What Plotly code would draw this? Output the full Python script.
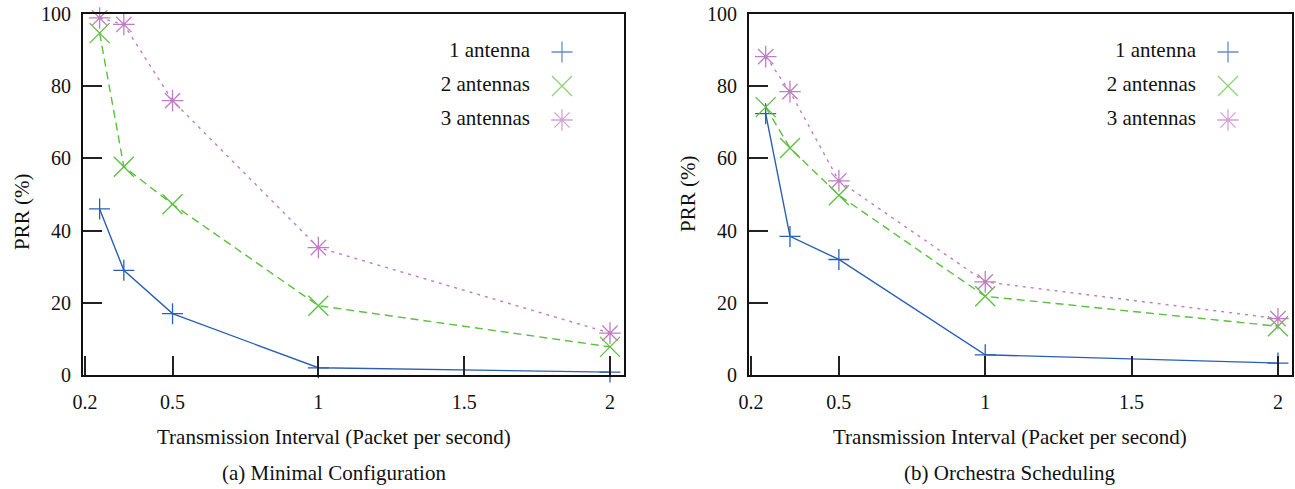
import plotly.graph_objects as go

# ---------------- data ----------------
interval = [0.25, 0.333, 0.5, 1, 2]
series_names = ["1 antenna", "2 antennas", "3 antennas"]

minimal_1ant = [46.0, 29.0, 17.0, 2.0, 0.8]
minimal_2ant = [94.7, 57.7, 47.3, 19.2, 7.8]
minimal_3ant = [98.9, 97.1, 76.0, 35.3, 11.6]

orchestra_1ant = [72.4, 38.4, 32.0, 5.6, 3.3]
orchestra_2ant = [74.2, 62.9, 49.8, 21.8, 13.5]
orchestra_3ant = [88.2, 78.5, 53.8, 25.8, 15.6]

xtick_vals = [0.2, 0.5, 1, 1.5, 2]
xtick_text = ["0.2", "0.5", "1", "1.5", "2"]
ytick_vals = [0, 20, 40, 60, 80, 100]
ytick_text = ["0", "20", "40", "60", "80", "100"]

x_title = "Transmission Interval (Packet per second)"
y_title = "PRR (%)"
captions = ["(a) Minimal Configuration", "(b) Orchestra Scheduling"]

# ---------------- styles ----------------
W, H = 1295, 489
FONT = "Liberation Serif"
FS = 21
TFS = 20
colors = ["#2b5fb4", "#5cbf3e", "#c07ec2"]
symbols = ["cross-thin", "x-thin", "asterisk"]
msizes = [15, 20, 18]
dashes = ["solid", "8px,5px", "3px,5px"]


def px(x):
    return x / W


def py(y):
    return 1 - y / H


fig = go.Figure()

panels = [
    ([minimal_1ant, minimal_2ant, minimal_3ant], "x", "y"),
    ([orchestra_1ant, orchestra_2ant, orchestra_3ant], "x2", "y2"),
]

for vals, xa, ya in panels:
    for i, v in enumerate(vals):
        fig.add_trace(go.Scatter(
            x=interval, y=v, xaxis=xa, yaxis=ya,
            mode="lines+markers", name=series_names[i], showlegend=False,
            line=dict(color=colors[i], width=1.4, dash=dashes[i]),
            marker=dict(symbol=symbols[i], size=msizes[i], color=colors[i],
                        line=dict(color=colors[i], width=1.3)),
            cliponaxis=False,
        ))

# legend replicas (text to the left, symbol to the right)
for xa, ya in [("x3", "y3"), ("x4", "y4")]:
    fig.add_trace(go.Scatter(
        x=[0] * len(series_names), y=series_names, xaxis=xa, yaxis=ya,
        mode="text", text=series_names, textposition="middle left",
        textfont=dict(family=FONT, size=FS, color="#111"),
        showlegend=False, hoverinfo="skip", cliponaxis=False,
    ))
    fig.add_trace(go.Scatter(
        x=[1] * len(series_names), y=series_names, xaxis=xa, yaxis=ya,
        mode="markers",
        marker=dict(symbol=symbols, size=msizes, color=colors,
                    line=dict(color=colors, width=1.3)),
        showlegend=False, hoverinfo="skip", cliponaxis=False,
    ))

axis_common = dict(
    showline=True, linecolor="#111", linewidth=2, mirror=True,
    showgrid=False, zeroline=False, automargin=False,
    ticks="inside", ticklen=19, tickwidth=1.5, tickcolor="#222",
    tickfont=dict(family=FONT, size=TFS, color="#111"),
)
hidden = dict(visible=False, automargin=False, showgrid=False, zeroline=False)

ydom = [py(375), py(14)]
fig.update_layout(
    template="none",
    width=W, height=H,
    margin=dict(l=0, r=0, t=0, b=0, autoexpand=False),
    paper_bgcolor="white", plot_bgcolor="white",
    xaxis=dict(domain=[px(83), px(624)], range=[0.193, 2.048], anchor="y",
               tickvals=xtick_vals, ticktext=xtick_text, ticklabelstandoff=8,
               **axis_common),
    yaxis=dict(domain=ydom, range=[0, 100], anchor="x",
               tickvals=ytick_vals, ticktext=ytick_text, ticklabelstandoff=6,
               **axis_common),
    xaxis2=dict(domain=[px(749), px(1292)], range=[0.193, 2.048], anchor="y2",
                tickvals=xtick_vals, ticktext=xtick_text, ticklabelstandoff=8,
                **axis_common),
    yaxis2=dict(domain=ydom, range=[0, 100], anchor="x2",
                tickvals=ytick_vals, ticktext=ytick_text, ticklabelstandoff=6,
                **axis_common),
    xaxis3=dict(domain=[px(530), px(562)], range=[0, 1], anchor="y3", **hidden),
    yaxis3=dict(domain=[py(137), py(35)], type="category", range=[2.5, -0.5],
                anchor="x3", **hidden),
    xaxis4=dict(domain=[px(1196), px(1228)], range=[0, 1], anchor="y4", **hidden),
    yaxis4=dict(domain=[py(137), py(35)], type="category", range=[2.5, -0.5],
                anchor="x4", **hidden),
    showlegend=False,
)

annots = []
for cx, cap in [(334, captions[0]), (1010, captions[1])]:
    annots.append(dict(x=px(cx), y=py(437), xref="paper", yref="paper",
                       text=x_title, showarrow=False, xanchor="center", yanchor="middle",
                       font=dict(family=FONT, size=FS, color="#111")))
    annots.append(dict(x=px(cx), y=py(473), xref="paper", yref="paper",
                       text=cap, showarrow=False, xanchor="center", yanchor="middle",
                       font=dict(family=FONT, size=FS, color="#111")))
for cx, cy in [(22, 212), (688, 194)]:
    annots.append(dict(x=px(cx), y=py(cy), xref="paper", yref="paper",
                       text=y_title, showarrow=False, textangle=-90,
                       xanchor="center", yanchor="middle",
                       font=dict(family=FONT, size=FS, color="#111")))
fig.update_layout(annotations=annots)

fig.write_html(
    "out.html",
    config={"displayModeBar": False},
    post_script="document.body.style.margin='0';document.body.style.padding='0';"
                "document.body.style.overflow='hidden';",
)
